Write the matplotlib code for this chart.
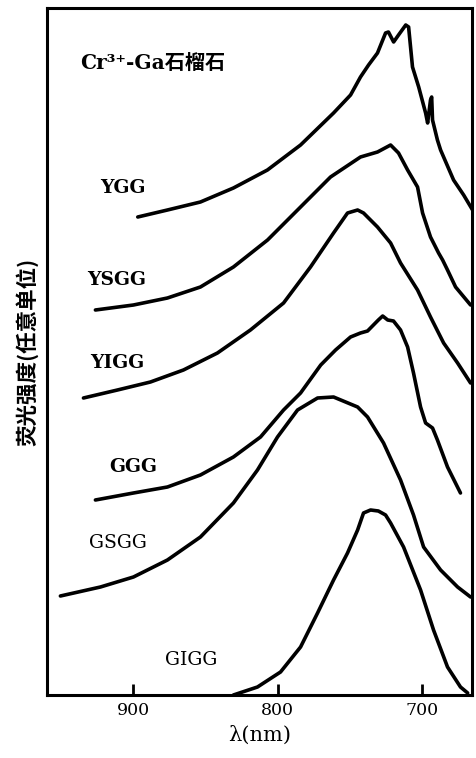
import matplotlib.pyplot as plt

# fluorescence spectra of Cr3+ in Ga garnets (arbitrary units, curves offset)
ygg_wl = [897, 876.4, 853.5, 830.6, 807, 784, 761.1, 749.3, 742.4, 736.8, 730.6, 725, 723,
          719.4, 716, 711, 709, 706.3, 702, 697.2, 695.8, 693.8, 693, 692.4, 689, 686.8,
          677.8, 670.8, 664.6]
ygg_int = [478, 485, 493, 507, 525, 550, 582, 600, 618, 630, 642, 662, 663,
           653, 660, 670, 668, 628, 608, 582, 572, 595, 598, 575, 555, 545,
           515, 500, 485]

ysgg_wl = [926.4, 900, 876.4, 853.5, 830.6, 806.9, 784, 763.2, 752.8, 742.4, 730.6, 721.5,
           716, 709.7, 702.8, 699.3, 693.8, 688.2, 685.4, 682, 676.4, 666]
ysgg_int = [385, 390, 397, 408, 428, 455, 488, 518, 528, 538, 543, 550,
            542, 525, 508, 482, 458, 442, 435, 425, 408, 390]

yigg_wl = [934.7, 911.1, 888.2, 865.3, 841.7, 818.8, 795.8, 777.1, 761.1, 751.4, 744.4,
           740.3, 730.6, 721.5, 714.6, 702.8, 693.8, 684.7, 675, 666]
yigg_int = [297, 305, 313, 325, 342, 365, 392, 428, 462, 482, 485,
            482, 468, 452, 432, 405, 378, 352, 332, 312]

ggg_wl = [926.4, 900, 876.4, 853.5, 830.6, 811.8, 795.8, 784, 770, 759.7, 749.3, 742.4,
          737.5, 730, 727, 723.5, 719.5, 714.6, 709.7, 705.6, 700.7, 697.2, 692.4, 689,
          682, 673]
ggg_int = [195, 202, 208, 220, 238, 258, 285, 302, 330, 345, 358, 362,
           364, 375, 379, 375, 374, 365, 348, 322, 288, 272, 267, 255,
           228, 202]

gsgg_wl = [950.7, 922.9, 900, 876.4, 853.5, 830.6, 813.9, 800, 786.1, 772.2, 761.1, 744.4,
           737.5, 726.4, 714.6, 705.6, 698.6, 686.8, 675, 666]
gsgg_int = [99, 108, 118, 135, 158, 192, 225, 258, 285, 297, 298, 288,
            278, 252, 215, 180, 148, 125, 108, 98]

gigg_wl = [830.6, 813.9, 797.9, 784, 772.2, 761.1, 751.4, 744.4, 740.3, 735.4, 730, 725,
           721.5, 712.5, 700.7, 691.7, 682, 673, 668]
gigg_int = [0, 8, 23, 48, 82, 115, 142, 165, 182, 185, 184, 180,
            172, 148, 105, 65, 28, 8, 2]

names = ['YGG', 'YSGG', 'YIGG', 'GGG', 'GSGG', 'GIGG']
label_pos = [(923, 507), (932, 415), (930, 332), (917, 228), (931, 152), (878, 35)]
label_bold = [True, True, True, True, False, False]

serif = ['DejaVu Serif', 'Noto Sans CJK SC']

fig = plt.figure(figsize=(4.76, 7.58), dpi=100)
ax = fig.add_axes([47 / 476, 1 - 695 / 758, 425 / 476, 687 / 758])

curves = [(ygg_wl, ygg_int), (ysgg_wl, ysgg_int), (yigg_wl, yigg_int),
          (ggg_wl, ggg_int), (gsgg_wl, gsgg_int), (gigg_wl, gigg_int)]
for (wl, inten) in curves:
    ax.plot(wl, inten, color='black', lw=2.6, solid_joinstyle='round',
            solid_capstyle='round')

for name, (x, y), bold in zip(names, label_pos, label_bold):
    ax.text(x, y, name, ha='left', va='center', fontsize=13.5,
            fontweight='bold' if bold else 'normal', family=serif)

ax.text(937, 632, 'Cr³⁺-Ga石榴石', ha='left', va='center', fontsize=14.5,
        fontweight='bold', family=serif)

ax.set_xlim(960, 665)
ax.set_ylim(0, 687)
ax.set_xticks([900, 800, 700])
ax.set_yticks([])
ax.tick_params(axis='x', direction='in', length=8, width=2, labelsize=12.5, pad=5)
for lbl in ax.get_xticklabels():
    lbl.set_family(serif)
for s in ax.spines.values():
    s.set_linewidth(2.2)

ax.set_xlabel('λ(nm)', fontsize=15, family=serif, labelpad=5)
ax.set_ylabel('荧光强度(任意单位)', fontsize=15.5, fontweight='bold',
              family=['Noto Sans CJK SC', 'DejaVu Sans'], labelpad=6)

fig.savefig('out.png', dpi=100)
